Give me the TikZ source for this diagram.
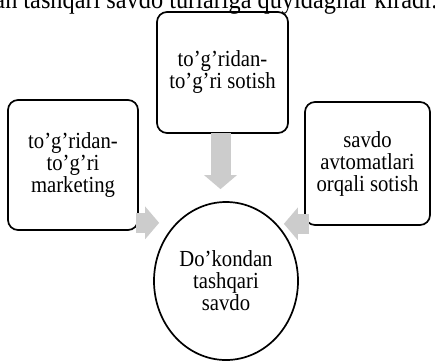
\documentclass[tikz,border=0pt]{standalone}
\usepackage{fontspec}
\setmainfont{Liberation Serif}[FakeStretch=0.9]
\usetikzlibrary{arrows.meta,positioning,shapes.geometric}

\begin{document}
\begin{tikzpicture}[x=1pt,y=-1pt,
box/.style={draw,line width=1.7pt,rounded corners=10pt,align=center,font=\fontsize{23}{22}\selectfont,inner sep=0pt},
oval/.style={draw,line width=1.7pt,ellipse,align=center,font=\fontsize{23}{22}\selectfont,inner sep=0pt},
fat/.style={gray!40,line width=20pt,-{Triangle[length=14pt,width=32pt]}}]
\useasboundingbox (0,0) rectangle (435,361);
\node[anchor=base east,inner sep=0pt,font=\fontsize{27}{27}\selectfont] at (438,9)(title){Do'kondan tashqari savdo turlariga quyidagilar kiradi:};
\node[box,minimum width=131pt,minimum height=121pt] at (222.5,72.5)(sotish){to'g'ridan-\\to'g'ri sotish};
\node[box,minimum width=130pt,minimum height=130pt] at (73,165)(marketing){to'g'ridan-\\to'g'ri\\marketing};
\node[box,minimum width=125pt,minimum height=123pt] at (367.5,163.5)(avtomat){savdo\\avtomatlari\\orqali sotish};
\node[oval,minimum width=144pt,minimum height=158pt] at (226,281)(savdo){Do'kondan\\tashqari\\savdo};
% fat arrows towards the centre
\draw[fat,shorten <=-1pt,shorten >=12pt]([xshift=-2pt]sotish.south)--([xshift=-2pt]sotish.south |- savdo.north);
\draw[fat,shorten <=-3pt,shorten >=-6pt]([yshift=8pt]marketing.south east)--([yshift=8pt]marketing.south east -| savdo.west);
\draw[fat,shorten <=-5pt,shorten >=-15pt]([yshift=2pt]avtomat.south west)--([yshift=2pt]avtomat.south west -| savdo.east);
\end{tikzpicture}
\end{document}
